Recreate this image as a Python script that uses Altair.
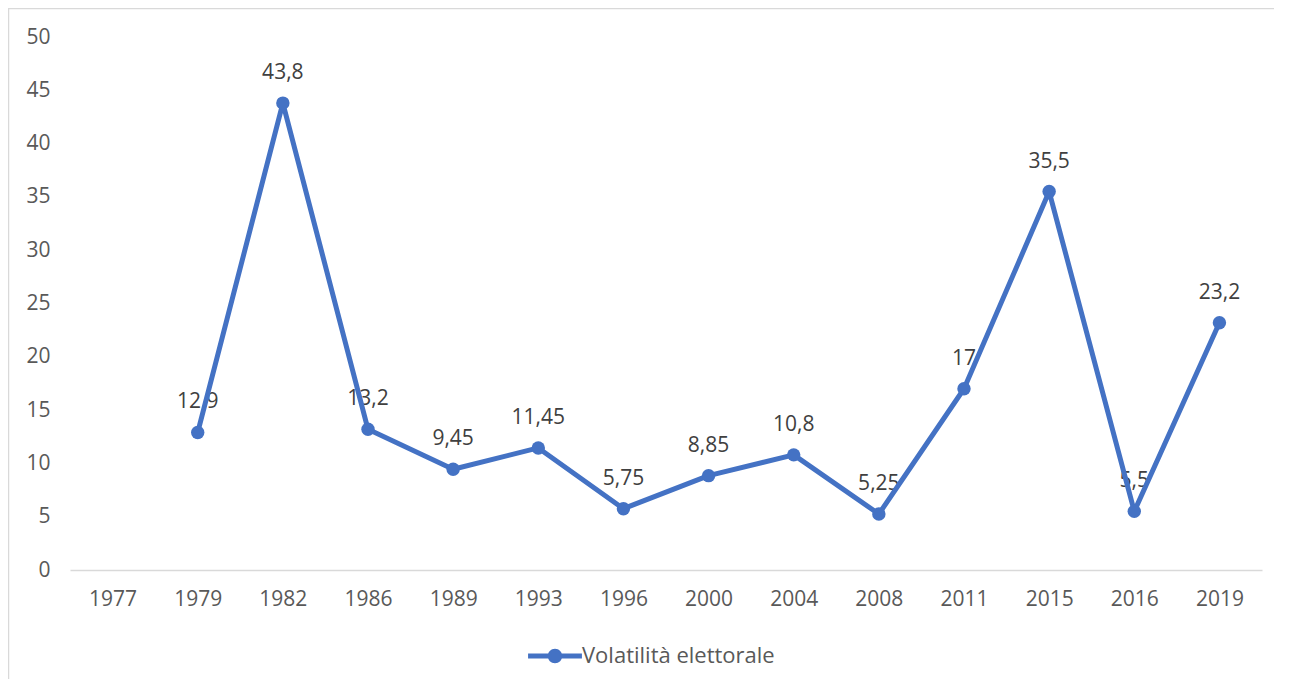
import altair as alt
import pandas as pd

years = ["1977", "1979", "1982", "1986", "1989", "1993", "1996", "2000",
         "2004", "2008", "2011", "2015", "2016", "2019"]
values = [None, 12.9, 43.8, 13.2, 9.45, 11.45, 5.75, 8.85, 10.8, 5.25,
          17, 35.5, 5.5, 23.2]
series_name = "Volatilità elettorale"
line_color = "#4472C4"

rows = []
for y, v in zip(years, values):
    if v is None:
        continue
    lab = (("%g" % v).replace(".", ","))
    rows.append({"anno": y, "valore": v, "etichetta": lab, "serie": series_name})
df = pd.DataFrame(rows)

font = "Open Sans"
W, H = 1192, 533

xenc = alt.X("anno:N", sort=years, scale=alt.Scale(domain=years, paddingInner=0, paddingOuter=0.5),
             axis=alt.Axis(title=None, labelAngle=0, ticks=False, grid=False,
                           domainColor="#d9d9d9", domainWidth=1.5,
                           labelFont=font, labelFontSize=21, labelColor="#595959",
                           labelPadding=18))
yenc = alt.Y("valore:Q", scale=alt.Scale(domain=[0, 50], nice=False),
             axis=alt.Axis(title=None, values=list(range(0, 55, 5)), ticks=False, grid=False,
                           domain=False, labelFont=font, labelFontSize=21,
                           labelColor="#595959", labelPadding=20))

legend_symbol = ("M-1,-0.095 L-0.24,-0.095 L-0.24,0.095 L-1,0.095 Z "
                 "M0.24,-0.095 L1,-0.095 L1,0.095 L0.24,0.095 Z "
                 "M-0.27,0 A0.27,0.27 0 1,1 0.27,0 A0.27,0.27 0 1,1 -0.27,0 Z")

color = alt.Color("serie:N", scale=alt.Scale(domain=[series_name], range=[line_color]),
                  legend=alt.Legend(title=None, orient="none", legendX=458, legendY=592,
                                    symbolType=legend_symbol, symbolSize=2900,
                                    symbolStrokeWidth=0, symbolOpacity=1,
                                    labelFont=font, labelFontSize=22, labelColor="#595959",
                                    labelLimit=500, labelOffset=0))

base = alt.Chart(df)

frame = alt.Chart(df.head(1)).mark_rect(filled=False, stroke="#d9d9d9", strokeWidth=1.5).encode(
    x=alt.value(-61.5), x2=alt.value(1240), y=alt.value(-28.5), y2=alt.value(720))

labels = base.mark_text(font=font, fontSize=21, color="#404040", dy=-30, baseline="middle").encode(
    x=xenc, y=yenc, text="etichetta:N")

line = base.mark_line(strokeWidth=5, strokeJoin="round").encode(x=xenc, y=yenc, color=color)
points = base.mark_circle(size=180, opacity=1).encode(x=xenc, y=yenc, color=color)

chart = alt.layer(frame, labels, line, points).properties(
    width=W, height=H,
    padding={"left": 62, "top": 29, "right": 12, "bottom": 109},
    autosize=alt.AutoSizeParams(type="none"),
    background="white"
).configure_view(stroke=None)

chart.save("out.html", embed_options={"renderer": "svg", "actions": False})
